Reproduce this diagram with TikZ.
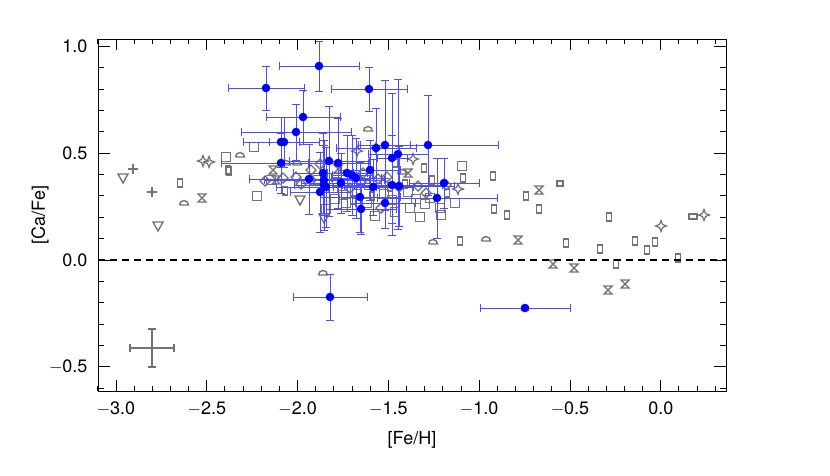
\documentclass[tikz,border=0pt]{standalone}
\usepackage{fontspec}
\setmainfont{TeX Gyre Heros}
\begin{document}
\begin{tikzpicture}[x=1pt,y=-1pt,
  g/.style={draw=black!55,line width=1.4pt},
  eb/.style={draw=blue!70,line width=0.6pt},
  lab/.style={font=\fontsize{18}{18}\selectfont}]
\useasboundingbox (0,0) rectangle (830,475);
% gray symbols
\newcommand{\gsq}[2]{\draw[g] (#1-4.5,#2-4.5) rectangle (#1+4.5,#2+4.5);}
\newcommand{\grc}[2]{\draw[g] (#1-2.5,#2-4) rectangle (#1+2.5,#2+4);}
\newcommand{\gtr}[2]{\draw[g] (#1-5,#2-4) -- (#1+5,#2-4) -- (#1,#2+5) -- cycle;}
\newcommand{\gpl}[2]{\draw[g,line width=2.2pt] (#1-5,#2) -- (#1+5,#2) (#1,#2-5) -- (#1,#2+5);}
\newcommand{\ghg}[2]{\draw[g] (#1-4,#2-4) -- (#1+4,#2-4) -- (#1-4,#2+4) -- (#1+4,#2+4) -- cycle;}
\newcommand{\gst}[2]{\draw[g,line width=1.2pt] (#1-5.5,#2) -- (#1-1.5,#2-1.5) -- (#1,#2-5.5) -- (#1+1.5,#2-1.5) -- (#1+5.5,#2) -- (#1+1.5,#2+1.5) -- (#1,#2+5.5) -- (#1-1.5,#2+1.5) -- cycle;}
\newcommand{\ghc}[2]{\draw[g] (#1-4.5,#2+2) -- (#1+4.5,#2+2) arc (0:-180:4.5);}
\newcommand{\gdm}[2]{\draw[g] (#1-5,#2) -- (#1,#2-5) -- (#1+5,#2) -- (#1,#2+5) -- cycle;}
\gtr{123}{178}\gtr{158}{226}\gtr{324}{218}\gtr{300}{200}
\gpl{133}{169}\gpl{152}{192}
\grc{180}{183}\grc{228}{170}\grc{494}{209}\grc{507}{215}\grc{566}{243}\grc{600}{249}\grc{616}{264}\grc{647}{250}\grc{678}{258}\grc{526}{196}\grc{539}{209}\grc{609}{217}\grc{635}{241}\grc{655}{242}\grc{493}{176}\grc{460}{241}\grc{229}{171}
\draw[g] (557,181) rectangle (563,186);\draw[g] (689,214) rectangle (697,219);
\ghc{184}{203}\ghc{240}{155}\ghc{323}{273}\ghc{433}{242}\ghc{486}{239}\ghc{368}{129}\ghc{297}{163}\ghc{286}{163}\ghc{402}{172}
\ghg{202}{198}\ghg{518}{240}\ghg{539}{190}\ghg{553}{264}\ghg{574}{268}\ghg{608}{290}\ghg{625}{284}\ghg{273}{170}\ghg{276}{180}\ghg{338}{169}\ghg{408}{173}
\gst{203}{161}\gst{458}{189}\gst{704}{215}\gst{661}{226}\gst{357}{151}\gst{376}{148}\gst{413}{159}\gst{209}{162}
\gsq{254}{147}\gsq{257}{196}\gsq{462}{166}\gsq{410}{208}\gsq{226}{157}\gsq{375}{216}\gsq{395}{212}\gsq{420}{217}\gsq{440}{208}\gsq{455}{203}\gsq{346}{203}\gsq{430}{198}\gsq{392}{200}\gsq{384}{194}\gsq{416}{199}\gsq{326}{209}\gsq{357}{194}\gsq{367}{203}\gsq{408}{192}\gsq{425}{204}\gsq{343}{195}\gsq{271}{180}\gsq{318}{180}\gsq{335}{199}
\gdm{311}{180}\gdm{301}{184}\gdm{296}{177}\gdm{283}{178}\gdm{311}{170}\gdm{378}{179}\gdm{361}{182}\gdm{387}{177}\gdm{399}{187}\gdm{363}{173}\gdm{418}{186}\gdm{381}{208}\gdm{426}{193}\gdm{446}{185}\gdm{265}{181}\gdm{320}{164}\gdm{350}{188}
\grc{285}{191}\grc{395}{163}\grc{424}{168}\grc{432}{180}\grc{447}{193}\grc{372}{196}\grc{405}{184}\grc{463}{178}\grc{390}{187}\grc{353}{200}
\gsq{369}{185}\gsq{441}{215}\gsq{337}{182}\gsq{333}{188}
% error cross
\draw[black!55,line width=1.4pt] (130,348) -- (174,348) (152,329) -- (152,367)
  (130,344) -- (130,352) (174,344) -- (174,352) (148,329) -- (156,329) (148,367) -- (156,367);
% blue points
\foreach \x/\y/\ex/\ey in {319/66/40/25,266/88/38/22,369/89/38/22,303/117/37/27,296/132/55/28,281/142/38/25,284/142/15/25,428/145/70/50,385/145/25/65,376/148/40/40,398/154/30/75,392/158/15/65,281/163/60/30,329/161/40/55,338/163/30/45,370/170/30/30,347/173/20/38,352/175/20/40,356/178/25/40,323/173/30/40,309/179/60/35,324/180/60/35,324/185/30/45,326/187/50/40,320/192/30/40,341/183/40/30,373/187/40/28,392/185/50/50,399/186/55/40,444/183/35/25,437/198/60/40,360/197/40/35,361/209/35/25,385/203/30/25,330/297/37/23,525/308/45/2}{
  \draw[eb] (\x-\ex,\y) -- (\x+\ex,\y) (\x-\ex,\y-4) -- (\x-\ex,\y+4) (\x+\ex,\y-4) -- (\x+\ex,\y+4)
    (\x,\y-\ey) -- (\x,\y+\ey) (\x-4,\y-\ey) -- (\x+4,\y-\ey) (\x-4,\y+\ey) -- (\x+4,\y+\ey);
}
\foreach \x/\y in {319/66,266/88,369/89,303/117,296/132,281/142,284/142,428/145,385/145,376/148,398/154,392/158,281/163,329/161,338/163,370/170,347/173,352/175,356/178,323/173,309/179,324/180,324/185,326/187,320/192,341/183,373/187,392/185,399/186,444/183,437/198,360/197,361/209,385/203,330/297,525/308}
  \fill[blue] (\x,\y) circle (4.3);
% zero line
\draw[line width=1.3pt,dash pattern=on 7pt off 5pt] (98,260) -- (726,260);
% frame and ticks
\draw[line width=1pt] (98,39) rectangle (726,391);
\foreach \i in {-31,...,3}{
  \pgfmathsetmacro\xx{116+18.16*(\i+30)}
  \pgfmathparse{mod(\i+30,5)==0?1:0}
  \ifnum\pgfmathresult=1
    \draw[line width=1pt] (\xx,391) -- (\xx,380) (\xx,39) -- (\xx,50);
  \else
    \draw[line width=1pt] (\xx,391) -- (\xx,386) (\xx,39) -- (\xx,44);
  \fi}
\foreach \i in {-6,...,10}{
  \pgfmathsetmacro\yy{260-21.35*\i}
  \pgfmathparse{mod(\i+10,5)==0?1:0}
  \ifnum\pgfmathresult=1
    \draw[line width=1pt] (98,\yy) -- (110,\yy) (726,\yy) -- (714,\yy);
  \else
    \draw[line width=1pt] (98,\yy) -- (104,\yy) (726,\yy) -- (720,\yy);
  \fi}
\foreach \v/\t in {-3/$-$3.0,-2.5/$-$2.5,-2/$-$2.0,-1.5/$-$1.5,-1/$-$1.0,-0.5/$-$0.5,0/0.0}
  \node[lab,anchor=north] (xl\v) at (116+181.6*\v+544.8,398) {\t};
\foreach \v/\t in {1/1.0,0.5/0.5,0/0.0,-0.5/$-$0.5}
  \node[lab,anchor=east] (yl\v) at (91,260-213.5*\v) {\t};
\node[lab] (xt) at (412,440) {[Fe/H]};
\node[lab,rotate=90] (yt) at (40,215) {[Ca/Fe]};
\end{tikzpicture}
\end{document}
